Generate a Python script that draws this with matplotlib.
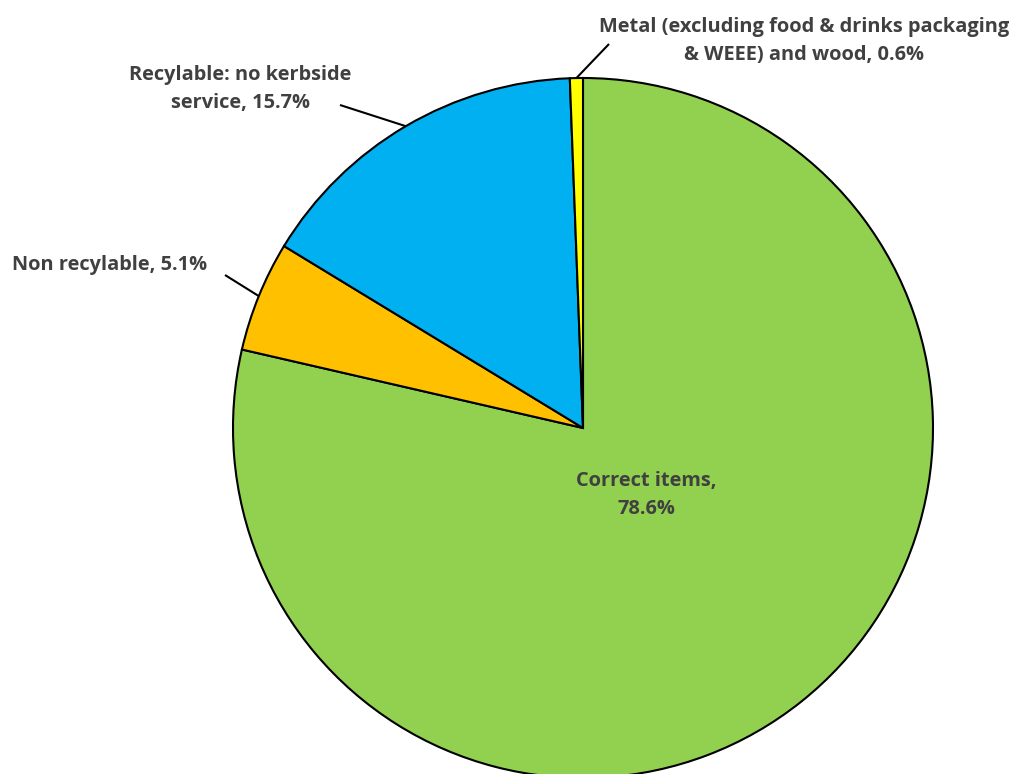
import numpy as np
import matplotlib.pyplot as plt

# ==== DATA ====
labels = ['Correct items,\n78.6%',
          'Non recylable, 5.1%',
          'Recylable: no kerbside\nservice, 15.7%',
          'Metal (excluding food & drinks packaging\n& WEEE) and wood, 0.6%']
shares = [78.6, 5.1, 15.7, 0.6]
colors = ['#92D050', '#FFC000', '#00B0F0', '#FFFF00']
# ==============

W, H = 1013, 774
fig = plt.figure(figsize=(W / 100, H / 100), dpi=100)
ax = fig.add_axes([0, 0, 1, 1])

cx, cy, r = 583, H - 428, 350
wedges, _ = ax.pie(shares, colors=colors, startangle=90, counterclock=False,
                   center=(cx, cy), radius=r, frame=True,
                   wedgeprops=dict(edgecolor='black', linewidth=1.5))
ax.set_xlim(0, W)
ax.set_ylim(0, H)
ax.set_aspect('equal')
ax.axis('off')

font = dict(family=['Open Sans', 'DejaVu Sans'], weight='bold', color='#404040', fontsize=14.4)

# label text position (pixel coords of the picture) and leader start
label_pos = [(646, 495), (110, 265), (240, 89), (804, 41)]
leader_start = [None, (225, 275), (340, 105), (609, 44)]

for i, w in enumerate(wedges):
    tx, ty = label_pos[i]
    ax.text(tx, H - ty, labels[i], ha='center', va='center', linespacing=1.5, **font)
    if leader_start[i] is not None:
        mid = np.deg2rad((w.theta1 + w.theta2) / 2)
        ex, ey = cx + r * np.cos(mid), cy + r * np.sin(mid)
        sx, sy = leader_start[i]
        ax.plot([sx, ex], [H - sy, ey], color='black', linewidth=1.5,
                solid_capstyle='butt')

fig.savefig('out.png', dpi=100)
